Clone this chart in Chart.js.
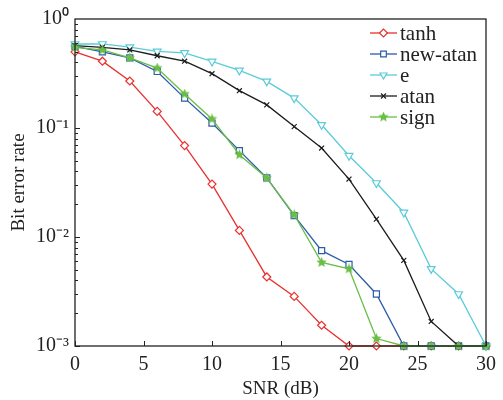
<!DOCTYPE html>
<html>
<head>
<meta charset="utf-8">
<script src="https://cdn.jsdelivr.net/npm/chart.js@4/dist/chart.umd.min.js"></script>
<style>
  html, body { margin: 0; padding: 0; background: #fff; }
  canvas { display: block; }
</style>
</head>
<body>
<canvas id="berChart" width="503" height="400"></canvas>
<script>
// --- data ---
const snr = [0, 2, 4, 6, 8, 10, 12, 14, 16, 18, 20, 22, 24, 26, 28, 30];
const tanhBer    = [0.50, 0.41, 0.27, 0.142, 0.069, 0.0306, 0.0115, 0.0043, 0.00285, 0.00155, 0.001, 0.001, 0.001, 0.001, 0.001, 0.001];
const newAtanBer = [0.56, 0.50, 0.44, 0.33, 0.188, 0.111, 0.062, 0.0348, 0.0157, 0.0075, 0.0056, 0.0030, 0.001, 0.001, 0.001, 0.001];
const eBer       = [0.59, 0.59, 0.553, 0.505, 0.488, 0.408, 0.338, 0.268, 0.188, 0.107, 0.0557, 0.0313, 0.0168, 0.0051, 0.0030, 0.001];
const atanBer    = [0.57, 0.55, 0.52, 0.46, 0.41, 0.315, 0.22, 0.163, 0.103, 0.0655, 0.034, 0.0146, 0.0061, 0.00168, 0.001, 0.001];
const signBer    = [0.55, 0.52, 0.44, 0.355, 0.205, 0.121, 0.0569, 0.0348, 0.016, 0.00585, 0.0051, 0.00117, 0.001, 0.001, 0.001, 0.001];

const seriesNames = ['tanh', 'new-atan', 'e', 'atan', 'sign'];
const xTicks = [0, 5, 10, 15, 20, 25, 30];
const yTicks = [0.001, 0.01, 0.1, 1];
const yTickLabels = ['10\u207B\u00B3', '10\u207B\u00B2', '10\u207B\u00B9', '10\u2070'];

const SERIF = "'Liberation Serif', 'Times New Roman', serif";
Chart.defaults.font.family = SERIF;
Chart.defaults.color = '#222';

// green star marker
function makeStar(color, size) {
    const c = document.createElement('canvas');
    c.width = size; c.height = size;
    const g = c.getContext('2d');
    const cx = size / 2, cy = size / 2, R = size / 2, r = R * 0.45;
    g.beginPath();
    for (let i = 0; i < 10; i++) {
        const rad = (i % 2 === 0) ? R : r;
        const a = -Math.PI / 2 + i * Math.PI / 5;
        g.lineTo(cx + rad * Math.cos(a), cy + rad * Math.sin(a));
    }
    g.closePath();
    g.fillStyle = color;
    g.fill();
    return c;
}

const toPoints = arr => arr.map((v, i) => ({ x: snr[i], y: v }));

const baseSet = {
    borderWidth: 1.3,
    fill: false,
    tension: 0,
    clip: false,
    pointBorderWidth: 1.2
};

const datasets = [
    Object.assign({}, baseSet, {
        label: seriesNames[0], data: toPoints(tanhBer), order: 5,
        borderColor: '#e8312f', pointBorderColor: '#e8312f', pointBackgroundColor: '#fff',
        pointStyle: 'rectRot', pointRadius: 4
    }),
    Object.assign({}, baseSet, {
        label: seriesNames[1], data: toPoints(newAtanBer), order: 4,
        borderColor: '#2a5caa', pointBorderColor: '#2a5caa', pointBackgroundColor: '#fff',
        pointStyle: 'rect', pointRadius: 4.3
    }),
    Object.assign({}, baseSet, {
        label: seriesNames[2], data: toPoints(eBer), order: 3,
        borderColor: '#5ccbd8', pointBorderColor: '#5ccbd8', pointBackgroundColor: '#fff',
        pointStyle: 'triangle', pointRotation: 180, pointRadius: 4.5
    }),
    Object.assign({}, baseSet, {
        label: seriesNames[3], data: toPoints(atanBer), order: 2,
        borderColor: '#1c1c1c', pointBorderColor: '#1c1c1c', pointBackgroundColor: '#1c1c1c',
        pointStyle: 'crossRot', pointRadius: 3.5
    }),
    Object.assign({}, baseSet, {
        label: seriesNames[4], data: toPoints(signBer), order: 1,
        borderColor: '#6abd45', pointBorderColor: '#6abd45', pointBackgroundColor: '#6abd45',
        pointStyle: makeStar('#6abd45', 11), pointRadius: 5
    })
];

// box frame, inward ticks and the line+marker legend
const framePlugin = {
    id: 'framePlugin',
    afterDraw(chart) {
        const ctx = chart.ctx;
        const a = chart.chartArea;
        const xs = chart.scales.x, ys = chart.scales.y;
        ctx.save();
        ctx.strokeStyle = '#222';
        ctx.lineWidth = 1.3;
        ctx.strokeRect(a.left, a.top, a.right - a.left, a.bottom - a.top);

        ctx.lineWidth = 1;
        ctx.beginPath();
        xTicks.forEach(v => {
            const px = Math.round(xs.getPixelForValue(v)) + 0.5;
            ctx.moveTo(px, a.bottom);
            ctx.lineTo(px, a.bottom - 5);
        });
        for (let d = -3; d < 0; d++) {
            for (let m = 1; m <= 9; m++) {
                const py = Math.round(ys.getPixelForValue(m * Math.pow(10, d))) + 0.5;
                const len = m === 1 ? 5 : 3;
                ctx.moveTo(a.left, py);
                ctx.lineTo(a.left + len, py);
            }
        }
        ctx.stroke();

        // legend
        const lx0 = 370, lx1 = 397, ly0 = 33, dy = 21;
        chart.data.datasets.forEach((ds, i) => {
            const y = ly0 + i * dy;
            ctx.strokeStyle = ds.borderColor;
            ctx.lineWidth = 1.3;
            ctx.beginPath();
            ctx.moveTo(lx0, y);
            ctx.lineTo(lx1, y);
            ctx.stroke();
            ctx.fillStyle = ds.pointBackgroundColor;
            ctx.strokeStyle = ds.pointBorderColor;
            ctx.lineWidth = 1.2;
            Chart.helpers.drawPoint(ctx, {
                pointStyle: ds.pointStyle,
                rotation: ds.pointRotation || 0,
                radius: Math.min(ds.pointRadius, 4),
                borderWidth: 1.2
            }, (lx0 + lx1) / 2, y);
            ctx.fillStyle = '#222';
            ctx.font = '21px ' + SERIF;
            ctx.textAlign = 'left';
            ctx.textBaseline = 'middle';
            ctx.fillText(ds.label, 400, y + 1);
        });
        ctx.restore();
    }
};

new Chart(document.getElementById('berChart'), {
    type: 'line',
    data: { datasets: datasets },
    options: {
        responsive: false,
        animation: false,
        layout: { padding: { top: 19, right: 14, left: 0, bottom: 0 } },
        plugins: {
            legend: { display: false },
            tooltip: { enabled: false }
        },
        scales: {
            x: {
                type: 'linear',
                min: 0,
                max: 30,
                afterFit: scale => { scale.height = 54; },
                afterBuildTicks: scale => { scale.ticks = xTicks.map(v => ({ value: v })); },
                grid: { display: false, drawTicks: false },
                border: { display: false },
                ticks: {
                    padding: 7,
                    maxRotation: 0,
                    font: { size: 20 },
                    color: '#222'
                },
                title: {
                    display: true,
                    text: 'SNR (dB)',
                    font: { size: 19 },
                    color: '#222',
                    padding: { top: 0, bottom: 0 }
                }
            },
            y: {
                type: 'logarithmic',
                min: 0.001,
                max: 1,
                afterFit: scale => { scale.width = 75; },
                afterBuildTicks: scale => { scale.ticks = yTicks.map(v => ({ value: v })); },
                grid: { display: false, drawTicks: false },
                border: { display: false },
                ticks: {
                    padding: 6,
                    font: { size: 20 },
                    color: '#222',
                    callback: value => {
                        const i = yTicks.findIndex(t => Math.abs(t - value) < t * 1e-6);
                        return i >= 0 ? yTickLabels[i] : '';
                    }
                },
                title: {
                    display: true,
                    text: 'Bit error rate',
                    font: { size: 19 },
                    color: '#222',
                    padding: { top: 8, bottom: 0 }
                }
            }
        }
    },
    plugins: [framePlugin]
});
</script>
</body>
</html>
